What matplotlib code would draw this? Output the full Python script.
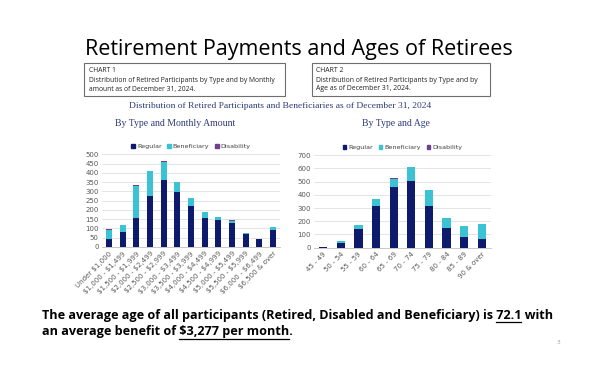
import matplotlib
matplotlib.use("Agg")
import matplotlib.pyplot as plt
from matplotlib.patches import Rectangle
from matplotlib.lines import Line2D
import numpy as np

plt.rcParams["text.parse_math"] = False

# ---------------- data ----------------
amount_cats = ["Under $1,000", "$1,000 - $1,499", "$1,500 - $1,999", "$2,000 - $2,499",
               "$2,500 - $2,999", "$3,000 - $3,499", "$3,500 - $3,999", "$4,000 - $4,499",
               "$4,500 - $4,999", "$5,000 - $5,499", "$5,500 - $5,999", "$6,000 - $6,499",
               "$6,500 & over"]
amount_regular = [43, 80, 157, 275, 360, 295, 222, 157, 143, 130, 72, 44, 94]
amount_benef = [48, 37, 173, 133, 100, 53, 42, 34, 21, 12, 2, 0, 14]
amount_disab = [4, 3, 4, 2, 2, 1, 0, 0, 0, 2, 0, 0, 0]
amount_yticks = [0, 50, 100, 150, 200, 250, 300, 350, 400, 450, 500]

age_cats = ["45 - 49", "50 - 54", "55 - 59", "60 - 64", "65 - 69", "70 - 74",
            "75 - 79", "80 - 84", "85 - 89", "90 & over"]
age_regular = [5, 32, 141, 313, 457, 502, 318, 149, 83, 66]
age_benef = [3, 18, 28, 53, 66, 112, 121, 76, 81, 111]
age_disab = [0, 0, 0, 0, 3, 0, 0, 0, 0, 0]
age_yticks = [0, 100, 200, 300, 400, 500, 600, 700]

series_names = ["Regular", "Beneficiary", "Disability"]

# ---------------- style ----------------
C_REG = "#0E1A6B"
C_BEN = "#3CC3D3"
C_DIS = "#70408A"
W, H = 606, 392
fig = plt.figure(figsize=(W / 100, H / 100), dpi=100)
fig.patch.set_facecolor("white")

SANS = "Open Sans"
SERIF = "Liberation Serif"


def px(x, y):
    return x / W, 1 - y / H


renderer = fig.canvas.get_renderer()


def text_width(s, **kw):
    t = fig.text(0, 0, s, **kw)
    w = t.get_window_extent(renderer).width
    t.remove()
    return w


def fit_text(x, y, s, target_w, size0, ha="left", va="center", **kw):
    w = text_width(s, fontsize=size0, **kw)
    size = size0 * target_w / w
    return fig.text(*px(x, y), s, fontsize=size, ha=ha, va=va, **kw), size


# Title
fit_text(299, 50, "Retirement Payments and Ages of Retirees", 428, 17,
         ha="center", family=SANS, color="black")

# Info boxes
for (x0, x1, lines) in [
    (84, 285, ["CHART 1", "Distribution of Retired Participants by Type and by Monthly",
               "amount as of December 31, 2024."]),
    (311.5, 489.5, ["CHART 2", "Distribution of Retired Participants by Type and by",
                    "Age as of December 31, 2024."])]:
    fig.add_artist(Rectangle(px(x0, 95.5), (x1 - x0) / W, 32.5 / H, transform=fig.transFigure,
                             fill=False, edgecolor="#6E6E6E", linewidth=0.8))
    target = 189 if x0 < 100 else 163
    _, fs = fit_text(x0 + 5, 80, lines[1], target, 5, family=SANS, color="#222222")
    fig.text(*px(x0 + 5, 70.5), lines[0], fontsize=fs, family=SANS, color="#222222", va="center")
    fig.text(*px(x0 + 5, 89), lines[2], fontsize=fs, family=SANS, color="#222222", va="center")

# Serif headers
HDR = "#2E3A78"
fit_text(280.5, 106, "Distribution of Retired Participants and Beneficiaries as of December 31, 2024",
         303, 7, ha="center", family=SERIF, color=HDR)
_, hs = fit_text(175, 123.5, "By Type and Monthly Amount", 120, 7, ha="center", family=SERIF, color=HDR)
fig.text(*px(395.5, 123.5), "By Type and Age", fontsize=hs, family=SERIF, color=HDR,
         ha="center", va="center")


def stacked(ax, cats, reg, ben, dis, yticks, width, legend_y):
    x = np.arange(len(cats))
    reg = np.array(reg); ben = np.array(ben); dis = np.array(dis)
    ax.bar(x, reg, width, color=C_REG, zorder=3)
    ax.bar(x, ben, width, bottom=reg, color=C_BEN, zorder=3)
    ax.bar(x, dis, width, bottom=reg + ben, color=C_DIS, zorder=3)
    ax.set_xlim(-0.5, len(cats) - 0.5)
    ax.set_ylim(yticks[0], yticks[-1])
    ax.set_yticks(yticks)
    ax.set_xticks(x)
    ax.set_xticklabels(cats, rotation=45, ha="right", rotation_mode="anchor")
    ax.tick_params(axis="both", length=0, labelsize=5, colors="#595959", pad=2.5)
    ax.grid(axis="y", color="#D9D9D9", linewidth=0.5, zorder=0)
    for s in ["top", "right", "left"]:
        ax.spines[s].set_visible(False)
    ax.spines["bottom"].set_color("#BFBFBF")
    ax.spines["bottom"].set_linewidth(0.6)
    handles = [Rectangle((0, 0), 1, 1, color=c) for c in (C_REG, C_BEN, C_DIS)]
    ax.legend(handles, series_names, loc="center", bbox_to_anchor=(0.5, legend_y),
              ncol=3, frameon=False, fontsize=4.6, handlelength=0.55, handleheight=0.55,
              handletextpad=0.3, columnspacing=0.9, labelcolor="#404040")


ax1 = fig.add_axes([102.2 / W, 1 - 247 / H, 177.6 / W, 92.7 / H])
stacked(ax1, amount_cats, amount_regular, amount_benef, amount_disab, amount_yticks, 0.42,
        1 + (154.3 - 146.7) / 92.7)

ax2 = fig.add_axes([314.2 / W, 1 - 247.7 / H, 176.6 / W, 92.4 / H])
stacked(ax2, age_cats, age_regular, age_benef, age_disab, age_yticks, 0.47,
        1 + (155.3 - 147.5) / 92.4)

# Bottom text with underlines
BK = dict(family=SANS, weight="bold", color="black")
line1_pre = "The average age of all participants (Retired, Disabled and Beneficiary) is "
u1 = "72.1"
line1 = line1_pre + u1 + " with"
t1, bs = fit_text(41.7, 315, line1, 510, 10, **BK)
line2_pre = "an average benefit of "
u2 = "$3,277 per month"
line2 = line2_pre + u2 + "."
fig.text(*px(41.7, 332), line2, fontsize=bs, va="center", **BK)


def underline(x0, y, pre, u):
    wu = text_width(u, fontsize=bs, **BK)
    wpu = text_width(pre + u, fontsize=bs, **BK)
    start = x0 + wpu - wu
    fig.add_artist(Line2D([start / W, (start + wu) / W], [1 - y / H, 1 - y / H],
                          transform=fig.transFigure, color="black", linewidth=0.9))


underline(41.7, 321.5, line1_pre, u1)
underline(41.7, 338.5, line2_pre, u2)

# page number
fig.text(*px(558, 343), "3", fontsize=4.5, color="#9A9A9A", family=SANS, ha="center", va="center")

fig.savefig("out.png", dpi=100)
